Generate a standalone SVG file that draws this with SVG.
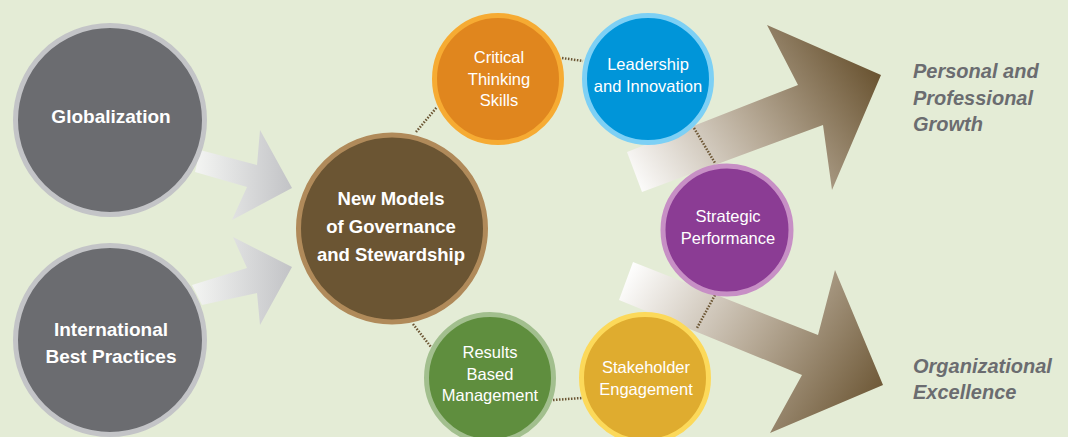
<svg xmlns="http://www.w3.org/2000/svg" width="1068" height="437" viewBox="0 0 1068 437">
<defs>
<linearGradient id="gGray" gradientUnits="objectBoundingBox" x1="0" y1="0" x2="1" y2="0">
<stop offset="0" stop-color="#f4f5f3"/><stop offset="1" stop-color="#c2c3c6"/>
</linearGradient>
<linearGradient id="gTop" gradientUnits="userSpaceOnUse" x1="640" y1="200" x2="860" y2="50">
<stop offset="0" stop-color="#ffffff"/><stop offset="0.5" stop-color="#b8ab98"/><stop offset="1" stop-color="#6b5533"/>
</linearGradient>
<linearGradient id="gBot" gradientUnits="userSpaceOnUse" x1="630" y1="265" x2="870" y2="420">
<stop offset="0" stop-color="#ffffff"/><stop offset="0.5" stop-color="#b8ab98"/><stop offset="1" stop-color="#6b5533"/>
</linearGradient>
</defs>
<style>
.lbl{font-family:"Liberation Sans",Arial,sans-serif;fill:#ffffff;text-anchor:middle}
.big{font-size:19px;font-weight:bold}
.sm{font-size:16.5px}
.out{font-family:"Liberation Sans",Arial,sans-serif;font-size:20px;font-weight:bold;font-style:italic;fill:#6b6c70}
.dot{stroke:#6b5533;stroke-width:2.5;stroke-dasharray:1.5 1.5;fill:none}
circle{stroke-width:5}
</style>
<rect width="1068" height="437" fill="#e4ecd6"/>
<g id="arrows">
<polygon points="200,150 257,165 260,130 292,188 232,220 247,187 195,172" fill="url(#gGray)"/>
<polygon points="192,285 247,268 233,237 292,267 260,325 257,293 202,305" fill="url(#gGray)"/>
<polygon points="627,152 798,85 767,25 881,75 832,190 823,125 642,192" fill="url(#gTop)"/>
<polygon points="633,262 818,335 835,270 883,385 770,433 802,375 619,300" fill="url(#gBot)"/>
</g>
<g id="connectors">
<line class="dot" x1="416" y1="132" x2="437" y2="107"/>
<line class="dot" x1="562" y1="58" x2="583" y2="61"/>
<line class="dot" x1="694" y1="128" x2="715" y2="163"/>
<line class="dot" x1="715" y1="295" x2="697" y2="328"/>
<line class="dot" x1="413" y1="324" x2="431" y2="347"/>
<line class="dot" x1="553" y1="400" x2="582" y2="398"/>
</g>
<g id="globalization">
<circle cx="110" cy="120" r="94.5" fill="#6b6c70" stroke="#c3c4c7"/>
<text class="lbl big" x="111" y="123">Globalization</text>
</g>
<g id="international">
<circle cx="110" cy="340" r="94.5" fill="#6b6c70" stroke="#c3c4c7"/>
<text class="lbl big" x="111" y="336">International</text>
<text class="lbl big" x="111" y="363">Best Practices</text>
</g>
<g id="newmodels">
<circle cx="392" cy="228.5" r="93.5" fill="#6b5533" stroke="#b08a5a" stroke-width="6"/>
<text class="lbl big" x="391" y="205" style="font-size:18.5px">New Models</text>
<text class="lbl big" x="391" y="233" style="font-size:18.5px">of Governance</text>
<text class="lbl big" x="391" y="261" style="font-size:18.5px">and Stewardship</text>
</g>
<g id="critical">
<circle cx="498" cy="79" r="63.5" fill="#e0861e" stroke="#f6ab33"/>
<text class="lbl sm" x="499" y="63">Critical</text>
<text class="lbl sm" x="499" y="85">Thinking</text>
<text class="lbl sm" x="499" y="106">Skills</text>
</g>
<g id="leadership">
<circle cx="648" cy="79" r="63.5" fill="#0095d9" stroke="#7dd0f5"/>
<text class="lbl sm" x="648" y="70">Leadership</text>
<text class="lbl sm" x="648" y="92">and Innovation</text>
</g>
<g id="strategic">
<circle cx="727" cy="230" r="64" fill="#8b3c94" stroke="#c78fc5"/>
<text class="lbl sm" x="728" y="222">Strategic</text>
<text class="lbl sm" x="728" y="244">Performance</text>
</g>
<g id="results">
<circle cx="490" cy="378" r="63.5" fill="#5f8e3e" stroke="#a2bf8e"/>
<text class="lbl sm" x="490" y="358">Results</text>
<text class="lbl sm" x="490" y="380">Based</text>
<text class="lbl sm" x="490" y="401">Management</text>
</g>
<g id="stakeholder">
<circle cx="645" cy="378" r="63.5" fill="#dfac2f" stroke="#fcd95a"/>
<text class="lbl sm" x="646" y="373">Stakeholder</text>
<text class="lbl sm" x="646" y="395">Engagement</text>
</g>
<g id="outcome-growth">
<text class="out" x="913" y="78">Personal and</text>
<text class="out" x="913" y="105">Professional</text>
<text class="out" x="913" y="131">Growth</text>
</g>
<g id="outcome-excellence">
<text class="out" x="913" y="373">Organizational</text>
<text class="out" x="913" y="399">Excellence</text>
</g>
</svg>
